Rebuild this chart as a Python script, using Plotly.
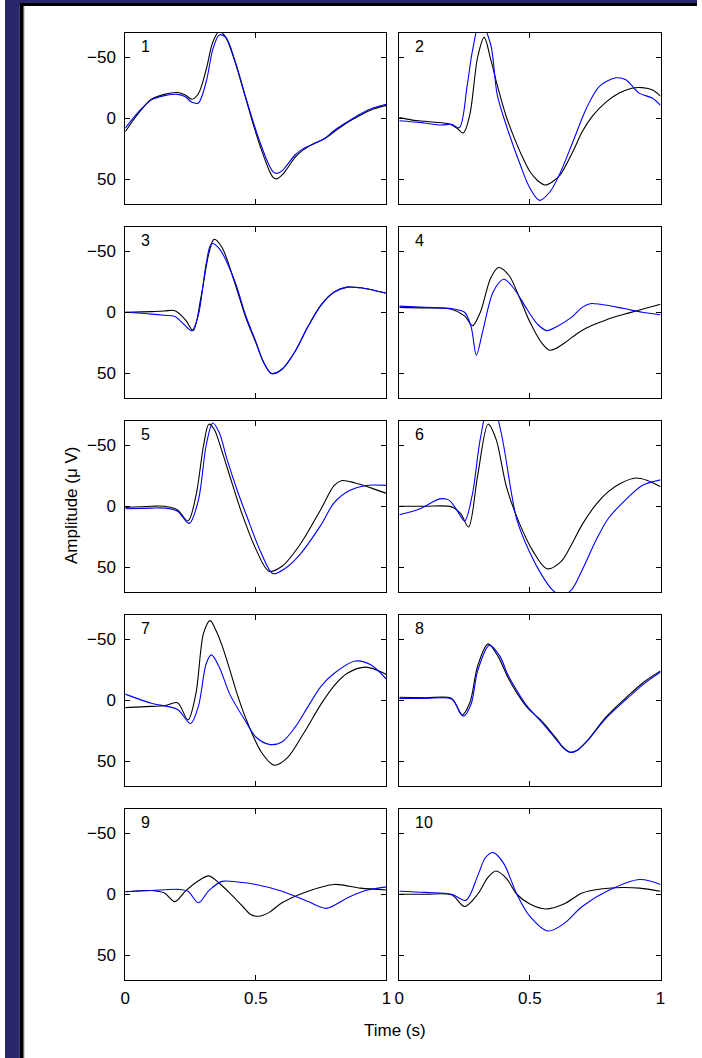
import plotly.graph_objects as go

# ---------------- data (amplitude in µV, positive = down) ----------------
p1_black_t = [0, 0.05, 0.1, 0.15, 0.2, 0.23, 0.255, 0.28, 0.31, 0.335, 0.36, 0.385, 0.42, 0.46, 0.49, 0.52, 0.55, 0.565, 0.58, 0.6, 0.62, 0.65, 0.68, 0.72, 0.76, 0.8, 0.85, 0.9, 0.95, 1.0]
p1_black_y = [11, -4, -15.5, -19.5, -21, -19, -15.5, -20, -40, -62, -71, -66, -46, -17, 5, 25, 42, 48, 49.5, 46.5, 41, 32, 26, 21, 17, 11, 3.5, -2.5, -7.5, -10.5]
p1_blue_t = p1_black_t
p1_blue_y = [8, -5, -15, -18.5, -19.5, -17.5, -13, -12.5, -30, -56, -68, -66, -47, -18, 3, 22, 38, 43.5, 45, 43, 38, 30, 25, 21, 17, 10, 3, -3.5, -8.5, -11.5]

p2_black_t = [0, 0.05, 0.1, 0.15, 0.19, 0.22, 0.245, 0.27, 0.3, 0.325, 0.35, 0.375, 0.41, 0.44, 0.47, 0.5, 0.53, 0.558, 0.585, 0.615, 0.665, 0.7, 0.74, 0.79, 0.84, 0.89, 0.93, 0.97, 1.0]
p2_black_y = [-0.5, 1.5, 2.5, 3.5, 4.5, 8, 12, -3, -50, -66, -48, -27, -1, 16, 31, 43.5, 51, 54.5, 52, 46.5, 27, 11, -2, -13, -20.5, -24.5, -25, -23, -18]
p2_blue_t = [0, 0.085, 0.16, 0.2, 0.23, 0.26, 0.28, 0.31, 0.35, 0.375, 0.413, 0.463, 0.5, 0.537, 0.577, 0.615, 0.665, 0.716, 0.766, 0.83, 0.867, 0.918, 0.968, 1.0]
p2_blue_y = [2, 3.6, 5.5, 5, 7.6, -27, -55, -80, -60, -19, 8, 38, 57, 67, 60, 45, 19, -8, -26, -33, -31.5, -20.5, -16.5, -10.5]

p3_black_t = [0, 0.1, 0.15, 0.19, 0.23, 0.26, 0.29, 0.32, 0.34, 0.37, 0.42, 0.46, 0.5, 0.53, 0.56, 0.6, 0.65, 0.7, 0.75, 0.8, 0.85, 0.9, 0.95, 1.0]
p3_black_y = [0, -0.5, -1, -1.3, 6, 15, -12.5, -48, -59.5, -53, -23.5, 3.5, 25, 41, 50, 46.5, 32, 11.5, -6, -16.5, -20.5, -20, -18, -15.5]
p3_blue_t = [0, 0.1, 0.15, 0.19, 0.225, 0.255, 0.28, 0.31, 0.33, 0.36, 0.42, 0.46, 0.5, 0.53, 0.56, 0.6, 0.65, 0.7, 0.75, 0.8, 0.85, 0.9, 0.95, 1.0]
p3_blue_y = [0, 1.5, 2.5, 3.5, 10, 15, 2, -40, -56, -52, -25, 2, 24, 41, 50, 46.5, 32, 11.5, -6, -16.5, -20.5, -20, -18, -15.5]

p4_black_t = [0, 0.1, 0.2, 0.25, 0.28, 0.31, 0.35, 0.38, 0.42, 0.46, 0.5, 0.545, 0.575, 0.6, 0.64, 0.68, 0.72, 0.77, 0.82, 0.88, 0.94, 1.0]
p4_black_y = [-4, -3.5, -2.5, 3, 11, 0, -28, -36.5, -30, -12, 8, 25, 31, 29.5, 24, 17.5, 12.5, 8, 4, 0.5, -3, -6.5]
p4_blue_t = [0, 0.1, 0.2, 0.25, 0.275, 0.295, 0.32, 0.36, 0.4, 0.44, 0.49, 0.53, 0.565, 0.6, 0.66, 0.7, 0.73, 0.77, 0.86, 0.93, 1.0]
p4_blue_y = [-5, -4, -3, 0, 12, 35, 15, -17, -27, -19, -2, 10, 15, 12, 4, -4, -7, -6.5, -3, 0, 2]

p5_black_t = [0, 0.1, 0.15, 0.2, 0.24, 0.27, 0.3, 0.32, 0.34, 0.37, 0.41, 0.445, 0.5, 0.55, 0.6, 0.67, 0.75, 0.8, 0.83, 0.88, 0.94, 1.0]
p5_black_y = [1, 0, 0, 3, 12, -8, -50, -67, -63, -45, -18, 5, 35, 53, 49, 31, 2, -17, -21, -19, -15, -10.5]
p5_blue_t = [0, 0.1, 0.15, 0.2, 0.245, 0.28, 0.31, 0.335, 0.36, 0.39, 0.43, 0.465, 0.52, 0.565, 0.61, 0.67, 0.75, 0.8, 0.86, 0.92, 1.0]
p5_blue_y = [2, 1.5, 1.5, 4, 14, -5, -50, -68, -60, -38, -12, 8, 38, 55, 51, 39, 15, -3, -13, -17, -17]

p6_black_t = [0, 0.1, 0.2, 0.235, 0.265, 0.3, 0.34, 0.37, 0.41, 0.46, 0.51, 0.565, 0.62, 0.66, 0.7, 0.755, 0.8, 0.85, 0.905, 0.95, 1.0]
p6_black_y = [0, 0, 0.5, 6, 17, -25, -67, -55, -16, 14, 36, 51, 45, 31, 15, -2, -12, -19, -23, -21, -16]
p6_blue_t = [0, 0.08, 0.155, 0.19, 0.22, 0.25, 0.28, 0.31, 0.35, 0.39, 0.45, 0.5, 0.545, 0.585, 0.62, 0.66, 0.7, 0.755, 0.8, 0.87, 0.93, 1.0]
p6_blue_y = [7, 2, -6, -5, 3, 12, -10, -55, -90, -60, 11, 38, 56, 68, 73, 68, 52, 27, 10, -6, -17, -21.5]

p7_black_t = [0, 0.1, 0.15, 0.2, 0.24, 0.27, 0.3, 0.325, 0.345, 0.37, 0.4, 0.43, 0.46, 0.52, 0.57, 0.62, 0.68, 0.75, 0.8, 0.85, 0.92, 1.0]
p7_black_y = [6, 5, 4.5, 2, 16, -5, -55, -65, -58, -45, -25, -4, 14, 42, 53, 47, 28, 3, -12, -22, -27, -21]
p7_blue_t = [0, 0.1, 0.2, 0.25, 0.28, 0.31, 0.33, 0.36, 0.4, 0.46, 0.5, 0.55, 0.6, 0.65, 0.7, 0.75, 0.8, 0.88, 0.94, 1.0]
p7_blue_y = [-5, 2.5, 7.5, 19, 5, -30, -37, -27, -5, 17, 30, 36, 34, 22, 5, -11.5, -22, -32, -29, -17]

p8_black_t = [0, 0.1, 0.2, 0.24, 0.27, 0.3, 0.34, 0.38, 0.415, 0.45, 0.49, 0.55, 0.6, 0.63, 0.655, 0.68, 0.72, 0.79, 0.87, 0.94, 1.0]
p8_black_y = [-2.5, -2, -1.5, 12, 2, -28, -46, -35, -19, -6, 6, 18, 31, 39, 42.5, 41, 33, 14, -2.5, -15.5, -24]
p8_blue_t = [0, 0.1, 0.2, 0.245, 0.275, 0.3, 0.345, 0.385, 0.415, 0.45, 0.49, 0.55, 0.6, 0.63, 0.655, 0.68, 0.72, 0.79, 0.87, 0.94, 1.0]
p8_blue_y = [-1.5, -1.5, -1, 13, 3, -24, -45, -36, -21, -8, 5, 19, 32, 39.5, 42.5, 41, 33, 15, -1, -14, -23]

p9_black_t = [0, 0.1, 0.15, 0.19, 0.23, 0.28, 0.32, 0.36, 0.4, 0.45, 0.48, 0.51, 0.55, 0.6, 0.7, 0.8, 0.9, 1.0]
p9_black_y = [-2, -3, -1, 6, -2.5, -11, -15, -9, -1, 10, 16.5, 18, 15, 7, -2.5, -8, -5, -3.5]
p9_blue_t = [0, 0.1, 0.2, 0.24, 0.28, 0.32, 0.37, 0.43, 0.5, 0.6, 0.7, 0.77, 0.85, 0.92, 1.0]
p9_blue_y = [-2, -3, -4, -2.5, 7, -3, -10.5, -10, -8, -2.5, 6, 11.5, 3, -3, -6]

p10_black_t = [0, 0.1, 0.2, 0.25, 0.3, 0.34, 0.37, 0.41, 0.45, 0.5, 0.56, 0.63, 0.7, 0.78, 0.85, 0.92, 1.0]
p10_black_y = [0, 0, 0.5, 10, 0, -14, -19, -13, 0, 8, 12, 8, -1, -4.5, -5.5, -5, -2.5]
p10_blue_t = [0, 0.1, 0.2, 0.255, 0.3, 0.33, 0.36, 0.4, 0.45, 0.5, 0.57, 0.63, 0.7, 0.8, 0.92, 1.0]
p10_blue_y = [-2.5, -1.5, 0, 5, -15, -30, -34, -25, 0, 18, 30, 24, 10, -3, -12, -8]

panels = [
    (p1_black_t, p1_black_y, p1_blue_t, p1_blue_y),
    (p2_black_t, p2_black_y, p2_blue_t, p2_blue_y),
    (p3_black_t, p3_black_y, p3_blue_t, p3_blue_y),
    (p4_black_t, p4_black_y, p4_blue_t, p4_blue_y),
    (p5_black_t, p5_black_y, p5_blue_t, p5_blue_y),
    (p6_black_t, p6_black_y, p6_blue_t, p6_blue_y),
    (p7_black_t, p7_black_y, p7_blue_t, p7_blue_y),
    (p8_black_t, p8_black_y, p8_blue_t, p8_blue_y),
    (p9_black_t, p9_black_y, p9_blue_t, p9_blue_y),
    (p10_black_t, p10_black_y, p10_blue_t, p10_blue_y),
]
panel_labels = ["1", "2", "3", "4", "5", "6", "7", "8", "9", "10"]
x_ticks = [0, 0.5, 1]
x_tick_labels = ["0", "0.5", "1"]
y_ticks = [-50, 0, 50]
y_range = [70, -70]

# ---------------- layout ----------------
W, H = 702, 1058
FONT = "Liberation Sans, Arial, Helvetica, sans-serif"
col_x = [(122, 387), (400, 665)]
row_top0, row_pitch, row_h = 32.5, 194, 171.5

fig = go.Figure()
layout = dict(
    width=W, height=H, margin=dict(l=0, r=0, t=0, b=0),
    paper_bgcolor="white", plot_bgcolor="white", showlegend=False,
    font=dict(family=FONT, size=17, color="black"),
)
annotations = []
for i, (bt, by, ut, uy) in enumerate(panels):
    r, c = divmod(i, 2)
    n = i + 1
    xs = "" if n == 1 else str(n)
    x0, x1 = col_x[c]
    top = row_top0 + r * row_pitch
    bot = top + row_h
    fig.add_trace(go.Scatter(x=bt, y=by, mode="lines", xaxis="x" + xs, yaxis="y" + xs,
                             line=dict(color="black", width=1.1, shape="spline", smoothing=0.9),
                             hoverinfo="skip"))
    fig.add_trace(go.Scatter(x=ut, y=uy, mode="lines", xaxis="x" + xs, yaxis="y" + xs,
                             line=dict(color="#0000ff", width=1.1, shape="spline", smoothing=0.9),
                             hoverinfo="skip"))
    common = dict(showline=True, linecolor="black", linewidth=1, mirror="ticks",
                  ticks="inside", ticklen=5, tickcolor="black", tickwidth=1,
                  showgrid=False, zeroline=False,
                  tickfont=dict(family=FONT, size=17, color="black"))
    layout["xaxis" + xs] = dict(common, domain=[x0 / W, x1 / W], range=[0, 1],
                               anchor="y" + xs, tickvals=x_ticks, ticktext=x_tick_labels,
                               showticklabels=(r == 4), ticklabelstandoff=3)
    layout["yaxis" + xs] = dict(common, domain=[1 - bot / H, 1 - top / H], range=y_range,
                               anchor="x" + xs, tickvals=y_ticks,
                               showticklabels=(c == 0), ticklabelstandoff=5)
    annotations.append(dict(text=panel_labels[i], xref="paper", yref="paper",
                            x=(x0 + 14) / W, y=1 - (top + 14) / H, xanchor="left", yanchor="middle",
                            showarrow=False, font=dict(family=FONT, size=16, color="black")))

annotations.append(dict(text="Amplitude (\u03bc V)", xref="paper", yref="paper",
                        x=67 / W, y=1 - 505 / H, textangle=-90, showarrow=False,
                        xanchor="center", yanchor="middle",
                        font=dict(family=FONT, size=17, color="black")))
annotations.append(dict(text="Time (s)", xref="paper", yref="paper",
                        x=396 / W, y=1 - 1030 / H, showarrow=False,
                        xanchor="center", yanchor="middle",
                        font=dict(family=FONT, size=17, color="black")))
layout["annotations"] = annotations

NAVY = "#28286a"
layout["shapes"] = [
    dict(type="rect", xref="paper", yref="paper", x0=0, x1=15 / W, y0=0, y1=1,
         fillcolor=NAVY, line=dict(width=0), layer="above"),
    dict(type="rect", xref="paper", yref="paper", x0=0, x1=1, y0=1 - 3 / H, y1=1,
         fillcolor=NAVY, line=dict(width=0), layer="above"),
    dict(type="rect", xref="paper", yref="paper", x0=15 / W, x1=19 / W, y0=0, y1=1 - 3 / H,
         fillcolor="black", line=dict(width=0), layer="above"),
    dict(type="rect", xref="paper", yref="paper", x0=15 / W, x1=1, y0=1 - 6 / H, y1=1 - 3 / H,
         fillcolor="black", line=dict(width=0), layer="above"),
    dict(type="rect", xref="paper", yref="paper", x0=19 / W, x1=20 / W, y0=0, y1=1 - 6 / H,
         fillcolor="#c8c8c8", line=dict(width=0), layer="above"),
]
fig.update_layout(**layout)
fig.write_html("out.html", config={"displayModeBar": False},
               post_script="document.body.style.margin='0px';document.body.style.overflow='hidden';")
